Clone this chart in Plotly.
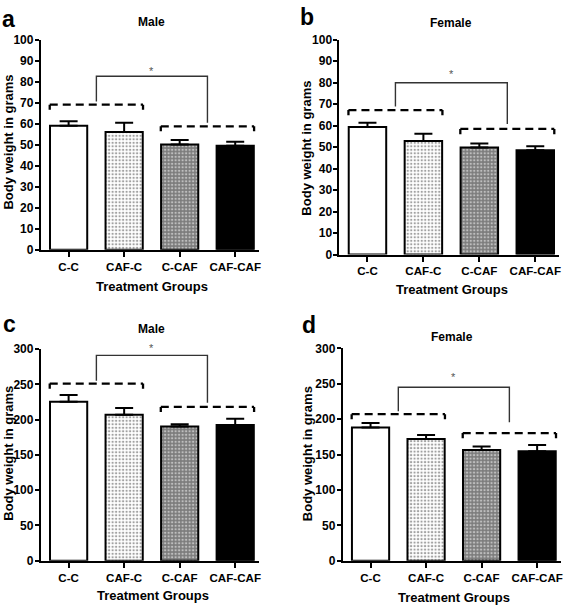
import plotly.graph_objects as go

W, H = 567, 614

groups = ["C-C", "CAF-C", "C-CAF", "CAF-CAF"]

# panel data (mean body weight and upper SEM)
a_mean = [59.0, 56.0, 50.0, 49.5]
a_err = [2.1, 4.4, 2.2, 1.9]
b_mean = [59.3, 52.8, 49.8, 48.5]
b_err = [2.0, 3.4, 1.8, 1.9]
c_mean = [225.2, 206.8, 190.3, 192.5]
c_err = [9.7, 9.7, 3.2, 8.7]
d_mean = [188.2, 171.8, 156.5, 154.6]
d_err = [6.5, 6.0, 5.0, 8.8]

# significance bracket levels: [dashed group1, dashed group2, solid top, left leg end, right leg end, star]
a_sig = [69.0, 58.7, 82.5, 70.5, 60.4, 86.0]
b_sig = [67.2, 58.4, 79.9, 68.8, 60.7, 85.0]
c_sig = [251.0, 218.0, 291.0, 255.0, 224.0, 304.0]
d_sig = [207.0, 180.4, 245.0, 211.0, 195.6, 263.0]

titles = ["Male", "Female", "Male", "Female"]
letters = ["a", "b", "c", "d"]
y_max = [100, 100, 300, 300]
y_step = [10, 10, 50, 50]

FONT = "Liberation Sans, Arial, sans-serif"

# pixel geometry of panels: (left, right, top, bottom)
boxes = [
    (41, 260, 33.3, 248.3),
    (340.7, 561.3, 33.3, 253.3),
    (41, 260, 350, 566.7),
    (344, 563, 349.3, 566.7),
]

def fx(px):
    return px / W

def fy(py):
    return 1 - py / H

pos = list(range(len(groups)))
fills = ["white", "white", "#7c7c7c", "black"]
shapes_p = ["", ".", ".", ""]
fgs = ["black", "#9c9c9c", "#4a4a4a", "black"]

fig = go.Figure()
means = [a_mean, b_mean, c_mean, d_mean]
errs = [a_err, b_err, c_err, d_err]
sigs = [a_sig, b_sig, c_sig, d_sig]

annotations = []
for k in range(4):
    xa = "x" if k == 0 else f"x{k+1}"
    ya = "y" if k == 0 else f"y{k+1}"
    fig.add_trace(go.Bar(
        x=pos, y=means[k], width=0.67,
        marker=dict(color=fills, line=dict(color="black", width=2),
                    pattern=dict(shape=shapes_p, fgcolor=fgs, size=3.5, solidity=0.35)),
        error_y=dict(type="data", array=errs[k], arrayminus=[0] * 4, symmetric=False,
                     thickness=2, width=9, color="black"),
        xaxis=xa, yaxis=ya, showlegend=False, hoverinfo="skip"))
    s = sigs[k]
    tick = y_max[k] * 0.024
    # dashed brackets
    for (x0, x1, lvl) in [(-0.34, 1.34, s[0]), (1.66, 3.34, s[1])]:
        fig.add_trace(go.Scatter(x=[x0, x1], y=[lvl, lvl], mode="lines",
                                 line=dict(color="black", width=2.3, dash="8px,5px"),
                                 xaxis=xa, yaxis=ya, showlegend=False, hoverinfo="skip"))
        for xe in (x0, x1):
            fig.add_trace(go.Scatter(x=[xe, xe], y=[lvl, lvl - tick], mode="lines",
                                     line=dict(color="black", width=2.3),
                                     xaxis=xa, yaxis=ya, showlegend=False, hoverinfo="skip"))
    # solid bracket
    fig.add_trace(go.Scatter(x=[0.5, 0.5, 2.5, 2.5], y=[s[3], s[2], s[2], s[4]], mode="lines",
                             line=dict(color="#333333", width=1.4),
                             xaxis=xa, yaxis=ya, showlegend=False, hoverinfo="skip"))
    # significance star (domain-relative so it may sit above the axis top)
    annotations.append(dict(x=1.5, y=s[5] / y_max[k], xref=xa, yref=f"{ya} domain",
                            text="*", showarrow=False, yanchor="middle", yshift=-2,
                            font=dict(family=FONT, size=11, color="#555555")))

    l, r, t, b = boxes[k]
    axis_common = dict(showline=True, linecolor="black", linewidth=2, ticks="outside",
                       tickwidth=2, tickcolor="black", showgrid=False, zeroline=False)
    xkey = "xaxis" if k == 0 else f"xaxis{k+1}"
    ykey = "yaxis" if k == 0 else f"yaxis{k+1}"
    fig.update_layout(**{
        xkey: dict(domain=[fx(l), fx(r)], range=[-0.5, 3.43], anchor=ya,
                   tickvals=pos, ticktext=groups, ticklen=5,
                   tickfont=dict(family=FONT, size=11.6, color="black", weight="bold"),
                   **axis_common),
        ykey: dict(domain=[fy(b), fy(t)], range=[0, y_max[k]], anchor=xa,
                   dtick=y_step[k], tick0=0, ticklen=4, ticklabelstandoff=-1,
                   tickfont=dict(family=FONT, size=12, color="black", weight="bold"),
                   **axis_common),
    })

# text annotations (pixel positions)
title_pos = [(152, 15), (453, 16), (152, 330), (454, 337.5)]
letter_pos = [(9, 12.4), (308, 10.7), (10, 324), (310, 325)]
xt_pos = [(152.7, 286), (453.8, 289), (153.3, 602), (455.5, 604)]
yt_pos = [(8.5, 138.3), (308, 144), (8.5, 456.7), (308, 456.7)]

for k in range(4):
    annotations.append(dict(x=fx(title_pos[k][0]), y=fy(title_pos[k][1]), xref="paper", yref="paper",
                            text=titles[k], showarrow=False, xanchor="center", yanchor="middle",
                            font=dict(family=FONT, size=12, color="black", weight="bold")))
    annotations.append(dict(x=fx(letter_pos[k][0]), y=fy(letter_pos[k][1]), xref="paper", yref="paper",
                            text=letters[k], showarrow=False, xanchor="center", yanchor="middle",
                            font=dict(family=FONT, size=23, color="black", weight="bold")))
    annotations.append(dict(x=fx(xt_pos[k][0]), y=fy(xt_pos[k][1]), xref="paper", yref="paper",
                            text="Treatment Groups", showarrow=False, xanchor="center", yanchor="middle",
                            font=dict(family=FONT, size=13, color="black", weight="bold")))
    annotations.append(dict(x=fx(yt_pos[k][0]), y=fy(yt_pos[k][1]), xref="paper", yref="paper",
                            text="Body weight in grams", showarrow=False, xanchor="center", yanchor="middle",
                            textangle=-90,
                            font=dict(family=FONT, size=13, color="black", weight="bold")))

fig.update_layout(width=W, height=H, margin=dict(l=0, r=0, t=0, b=0),
                  paper_bgcolor="white", plot_bgcolor="white",
                  annotations=annotations, bargap=0.3)

fig.write_html("out.html", config={"displayModeBar": False},
               post_script="document.body.style.margin='0';document.body.style.overflow='hidden';")
